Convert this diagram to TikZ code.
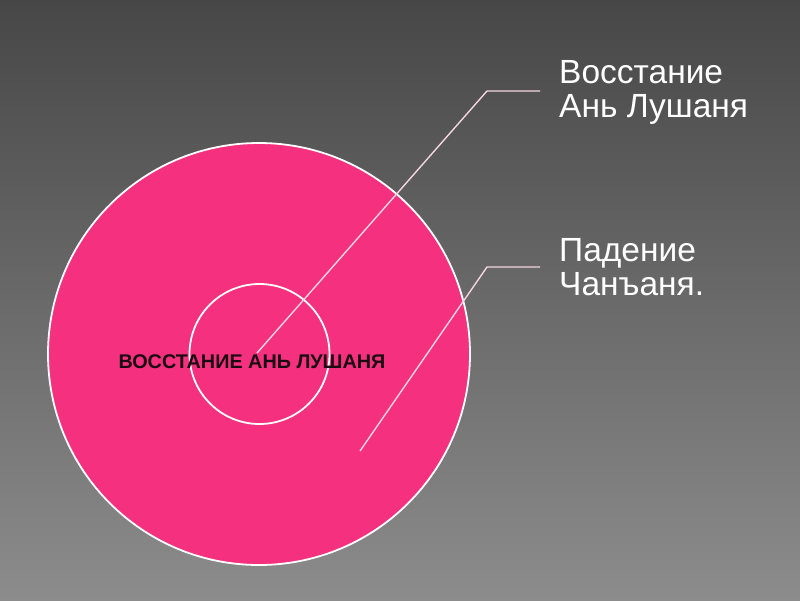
\documentclass[tikz,border=0pt]{standalone}
\usepackage{fontspec}
\setmainfont{Liberation Sans}
\begin{document}
\begin{tikzpicture}[x=1pt,y=-1pt,
  ring/.style={draw=white,line width=1.8pt,fill=pinkfill},
  leader/.style={draw=leadcol,line width=1.4pt},
  label/.style={anchor=north west,align=left,text=white,inner sep=0pt,font=\fontsize{33.5}{33.8}\selectfont}]
\definecolor{pinkfill}{HTML}{F5307E}
\definecolor{leadcol}{HTML}{F4D6E2}
\definecolor{bgtop}{HTML}{474747}
\definecolor{bgbot}{HTML}{8C8C8C}
\definecolor{innertext}{HTML}{1A0A12}
\useasboundingbox (0,0) rectangle (800,600);
\shade[top color=bgtop,bottom color=bgbot] (0,0) rectangle (800,600);
\node[ring,circle,minimum size=422pt,inner sep=0pt] (outer) at (259,354) {};
\node[ring,circle,minimum size=140pt,inner sep=0pt] (inner) at (259.5,354) {};
\node[font=\bfseries\fontsize{19.8}{22}\selectfont,text=innertext,inner sep=0pt,anchor=base] (t) at (252,368) {ВОССТАНИЕ АНЬ ЛУШАНЯ};
\coordinate (s1) at (257,353);
\coordinate (k1) at (487,91);
\coordinate (e1) at (540,91);
\coordinate (s2) at (360,451);
\coordinate (k2) at (487,267);
\coordinate (e2) at (540,267);
\draw[leader] (s1) -- (k1) -- (e1);
\draw[leader] (s2) -- (k2) -- (e2);
\node[label] (l1) at (559,60) {Восстание\\Ань Лушаня};
\node[label] (l2) at (559,238) {Падение\\Чанъаня.};
\end{tikzpicture}
\end{document}
